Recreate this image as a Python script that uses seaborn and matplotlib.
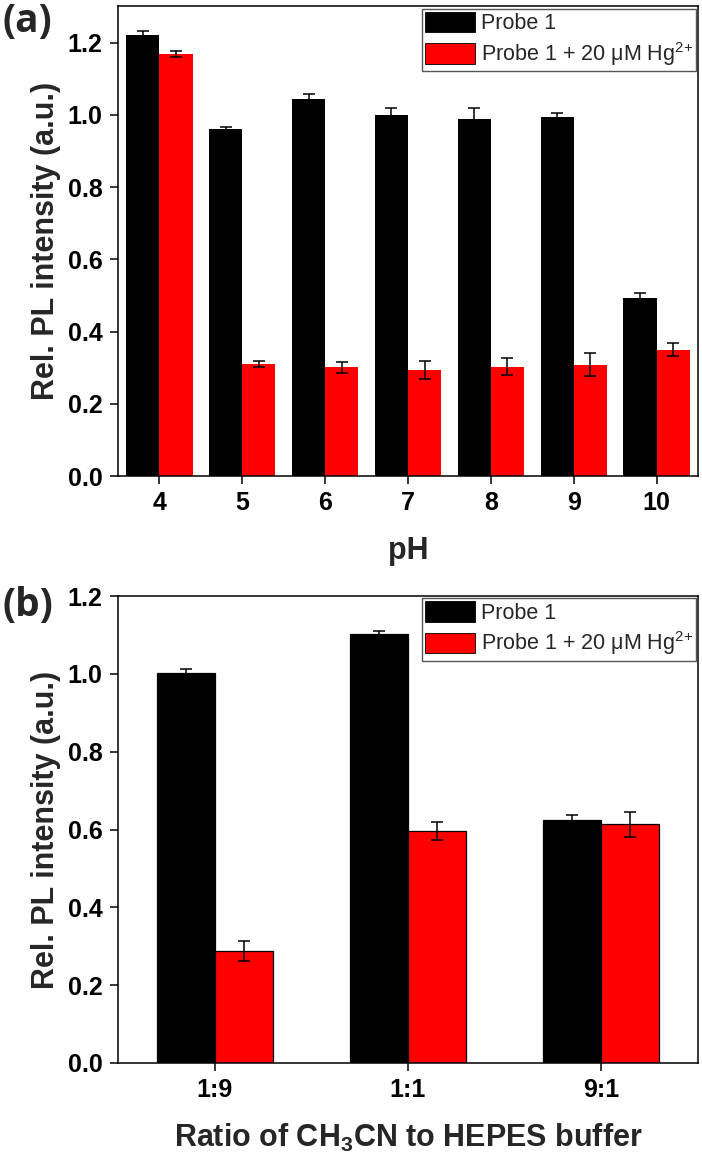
import matplotlib
matplotlib.use("Agg")
import matplotlib.pyplot as plt
import seaborn as sns
import pandas as pd
import numpy as np
from matplotlib.patches import Patch
from matplotlib.container import BarContainer

# ---- data ----
ph_labels = ["4", "5", "6", "7", "8", "9", "10"]
ph_probe = [1.220, 0.960, 1.044, 1.000, 0.989, 0.994, 0.492]
ph_probe_err = [0.012, 0.005, 0.013, 0.020, 0.030, 0.012, 0.015]
ph_hg = [1.168, 0.310, 0.301, 0.293, 0.303, 0.308, 0.350]
ph_hg_err = [0.009, 0.007, 0.015, 0.024, 0.023, 0.032, 0.018]

ratio_labels = ["1:9", "1:1", "9:1"]
ratio_probe = [1.001, 1.103, 0.624]
ratio_probe_err = [0.011, 0.007, 0.014]
ratio_hg = [0.288, 0.597, 0.613]
ratio_hg_err = [0.025, 0.023, 0.032]

series_names = ["Probe 1", "Probe 1 + 20 \u03bcM Hg$^{2{+}}$"]
series_colors = ["#000000", "#ff0000"]
y_ticks = [0.0, 0.2, 0.4, 0.6, 0.8, 1.0, 1.2]

sns.set_style("ticks")
plt.rcParams["font.family"] = ["Liberation Sans", "DejaVu Sans"]
plt.rcParams["mathtext.default"] = "regular"
plt.rcParams["axes.linewidth"] = 1.1

fig = plt.figure(figsize=(7.02, 11.61), dpi=100)
ax1 = fig.add_axes([118 / 702, 1 - 476 / 1161, 580 / 702, (476 - 6.4) / 1161])
ax2 = fig.add_axes([118 / 702, 1 - 1063 / 1161, 580 / 702, (1063 - 596) / 1161])


def make_panel(ax, cats, v1, e1, v2, e2, width, ylim, xlabel, edge):
    df = pd.DataFrame({
        "cat": cats + cats,
        "val": v1 + v2,
        "series": [series_names[0]] * len(cats) + [series_names[1]] * len(cats),
    })
    sns.barplot(data=df, x="cat", y="val", hue="series", order=cats,
                hue_order=series_names, palette=series_colors, width=width,
                errorbar=None, legend=False, ax=ax, saturation=1,
                edgecolor="black" if edge else "none", linewidth=0.9 if edge else 0)
    errs = [e1, e2]
    vals = [v1, v2]
    bar_conts = [c for c in ax.containers if isinstance(c, BarContainer)]
    for k, cont in enumerate(bar_conts):
        xs = [p.get_x() + p.get_width() / 2 for p in cont.patches]
        ax.errorbar(xs, vals[k], yerr=errs[k], fmt="none", ecolor="black",
                    elinewidth=1.1, capsize=4, capthick=1.1, zorder=5)
    ax.set_xlim(-0.5, len(cats) - 0.5)
    ax.set_ylim(*ylim)
    ax.set_yticks(y_ticks)
    ax.set_yticklabels([f"{t:.1f}" for t in y_ticks])
    for s in ax.spines.values():
        s.set_visible(True)
        s.set_color("black")
        s.set_linewidth(1.1)
    ax.tick_params(axis="both", direction="out", length=6, width=1.1,
                   labelsize=18, colors="black")
    ax.tick_params(axis="x", pad=5)
    ax.tick_params(axis="y", pad=5)
    for lab in ax.get_xticklabels() + ax.get_yticklabels():
        lab.set_fontweight("bold")
    ax.set_ylabel("Rel. PL intensity (a.u.)", fontsize=22, fontweight="bold")
    ax.yaxis.set_label_coords(-0.124, 0.5)
    ax.yaxis.label.set_va("center")
    ax.set_xlabel(xlabel, fontsize=22, fontweight="bold")
    ax.xaxis.set_label_coords(0.5, -0.16)
    ax.xaxis.label.set_va("center")
    handles = [Patch(facecolor=c, edgecolor="black", linewidth=0.6) for c in series_colors]
    leg = ax.legend(handles, series_names, loc="upper right", fontsize=15.5,
                    frameon=True, fancybox=False, framealpha=1,
                    edgecolor="#555555", handlelength=2.33, handleheight=1.1,
                    handletextpad=0.25, labelspacing=0.25, borderpad=0.15,
                    borderaxespad=0.1)
    leg.get_frame().set_linewidth(1.0)


make_panel(ax1, ph_labels, ph_probe, ph_probe_err, ph_hg, ph_hg_err, 0.8,
           (0, 1.3), "pH", False)
make_panel(ax2, ratio_labels, ratio_probe, ratio_probe_err, ratio_hg, ratio_hg_err,
           0.6, (0, 1.2), "Ratio of CH$_3$CN to HEPES buffer", True)

fig.text(0.004, 0.998, "(a)", fontsize=28, fontweight="bold", family="Open Sans",
         ha="left", va="top")
fig.text(0.003, 1 - 586 / 1161, "(b)", fontsize=28, fontweight="bold",
         family="Open Sans", ha="left", va="top")

fig.savefig("out.png", dpi=100)
